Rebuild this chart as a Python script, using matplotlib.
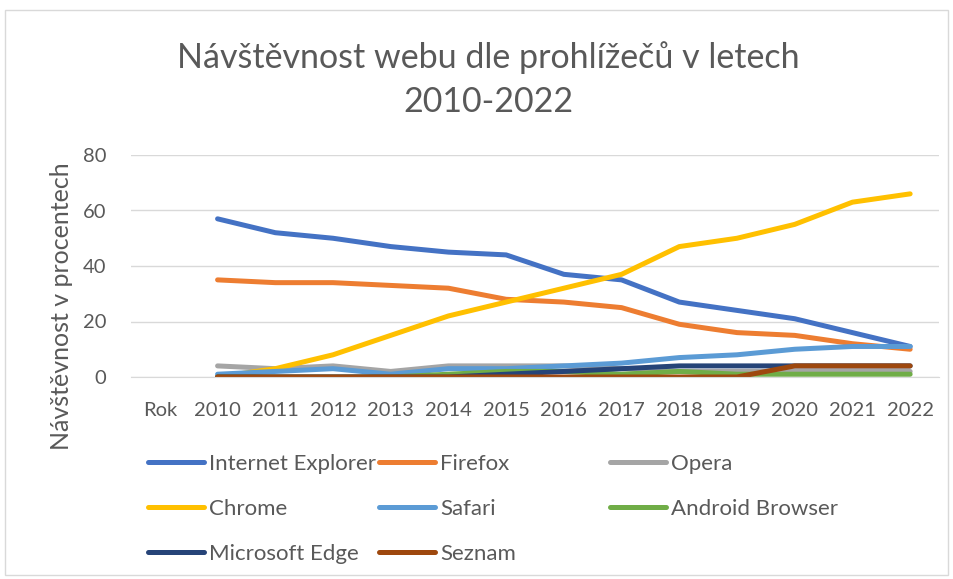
import matplotlib.pyplot as plt
import numpy as np
from matplotlib.lines import Line2D
from matplotlib.patches import Rectangle

plt.rcParams["font.family"] = ["Lato", "DejaVu Sans"]

categories = ["Rok", "2010", "2011", "2012", "2013", "2014", "2015", "2016",
              "2017", "2018", "2019", "2020", "2021", "2022"]

# values per year 2010-2022 (the "Rok" column is empty)
internet_explorer = [57, 52, 50, 47, 45, 44, 37, 35, 27, 24, 21, 16, 11]
firefox = [35, 34, 34, 33, 32, 28, 27, 25, 19, 16, 15, 12, 10]
opera = [4, 3, 4, 2, 4, 4, 4, 3, 2, 2, 2, 2, 2]
chrome = [0, 3, 8, 15, 22, 27, 32, 37, 47, 50, 55, 63, 66]
safari = [1, 2, 3, 1, 3, 3, 4, 5, 7, 8, 10, 11, 11]
android_browser = [0, 0, 0, 0, 1, 2, 2, 1, 2, 1, 1, 1, 1]
microsoft_edge = [0, 0, 0, 0, 0, 1, 2, 3, 4, 4, 4, 4, 4]
seznam = [0, 0, 0, 0, 0, 0, 0, 0, 0, 0, 4, 4, 4]

series = [
    ("Internet Explorer", internet_explorer, "#4472C4"),
    ("Firefox", firefox, "#ED7D31"),
    ("Opera", opera, "#A5A5A5"),
    ("Chrome", chrome, "#FFC000"),
    ("Safari", safari, "#5B9BD5"),
    ("Android Browser", android_browser, "#70AD47"),
    ("Microsoft Edge", microsoft_edge, "#264478"),
    ("Seznam", seznam, "#9E480E"),
]

text_color = "#595959"
grid_color = "#D9D9D9"

fig = plt.figure(figsize=(9.54, 5.79), dpi=100)
fig.patches.append(Rectangle((5 / 954, 4 / 579), 943 / 954, 565 / 579,
                             transform=fig.transFigure, fill=False,
                             edgecolor=grid_color, linewidth=1))

ax = fig.add_axes([131 / 954, 1 - 377 / 579, 808 / 954, 222 / 579])
x = np.arange(len(categories))

for name, values, color in series:
    y = [np.nan] + values
    ax.plot(x, y, color=color, linewidth=3.6, label=name,
            solid_capstyle="round", solid_joinstyle="round")

ax.set_xlim(-0.5, len(categories) - 0.5)
ax.set_ylim(0, 80)
ax.set_yticks([0, 20, 40, 60, 80])
ax.set_xticks(x)
ax.set_xticklabels(categories)
ax.grid(axis="y", color=grid_color, linewidth=1)
ax.set_axisbelow(True)
for side in ["top", "right", "left"]:
    ax.spines[side].set_visible(False)
ax.spines["bottom"].set_color(grid_color)
ax.tick_params(length=0, colors=text_color, labelsize=14.5)
ax.tick_params(axis="x", pad=18)
ax.tick_params(axis="y", pad=18)
ax.set_ylabel("Návštěvnost v procentech", color=text_color, fontsize=18)
ax.yaxis.set_label_coords(-58 / 808, 0.32)

fig.text(488 / 954, 1 - 58 / 579, "Návštěvnost webu dle prohlížečů v letech",
         ha="center", va="center", fontsize=24.5, color=text_color)
fig.text(488 / 954, 1 - 102 / 579, "2010-2022",
         ha="center", va="center", fontsize=24.5, color=text_color)

# legend in three columns of equal width, like the original
columns = [[0, 3, 6], [1, 4, 7], [2, 5]]
col_x = [148, 379, 610]
for cx, idx in zip(col_x, columns):
    hs = [Line2D([], [], color=series[i][2], linewidth=3.6,
                 solid_capstyle="round") for i in idx]
    labels = [series[i][0] for i in idx]
    leg = fig.legend(hs, labels, loc="upper left",
                     bbox_to_anchor=(cx / 954, 1 - 454 / 579),
                     frameon=False, fontsize=16, handlelength=2.5,
                     handletextpad=0.25, labelspacing=1.12,
                     borderaxespad=0, borderpad=0)
    for t in leg.get_texts():
        t.set_color(text_color)

fig.savefig("out.png", dpi=100)
